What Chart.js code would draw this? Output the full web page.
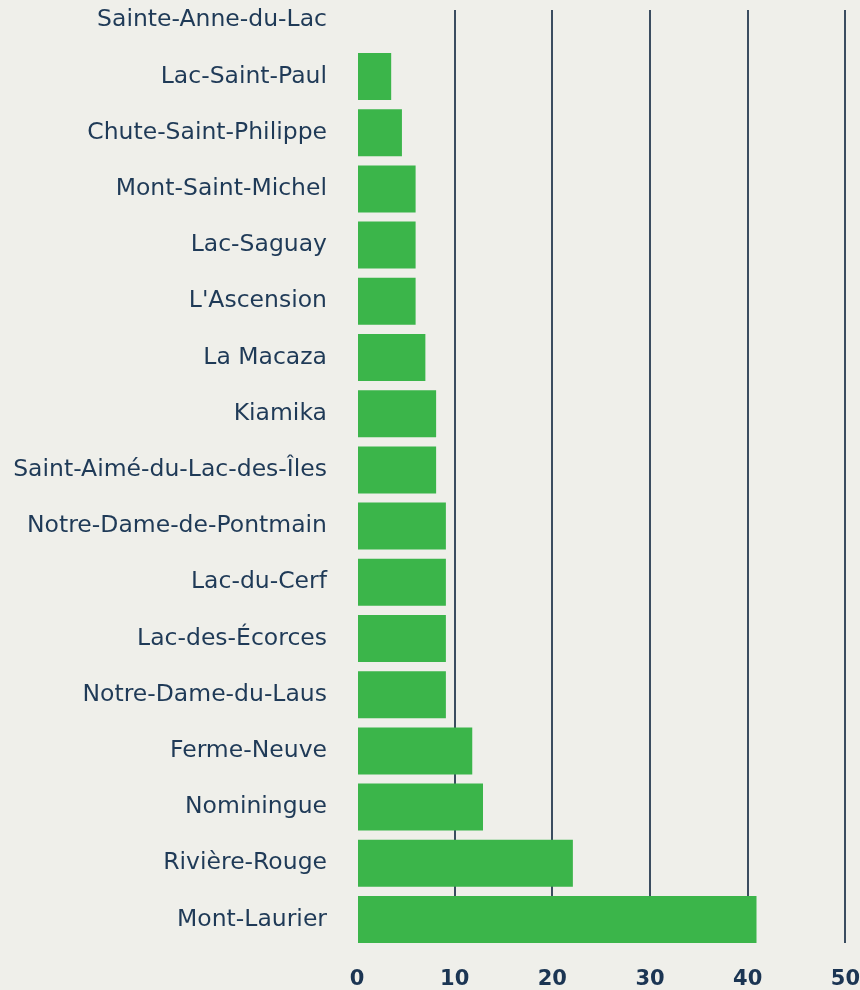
<!DOCTYPE html>
<html>
<head>
<meta charset="utf-8">
<script src="https://cdn.jsdelivr.net/npm/chart.js@4"></script>
<style>
  html, body { margin: 0; padding: 0; background: #efefea; }
  #wrap { position: relative; width: 860px; height: 990px; overflow: hidden; background: #efefea; }
  #c { position: absolute; left: 0; top: -38px; }
  #topmask { position: absolute; left: 340px; top: 0; width: 520px; height: 10px; background: #efefea; }
  #botmask { position: absolute; left: 340px; top: 943px; width: 520px; height: 6px; background: #efefea; }
</style>
</head>
<body>
<div id="wrap">
  <canvas id="c" width="860" height="1050"></canvas>
  <div id="topmask"></div>
  <div id="botmask"></div>
</div>
<script>
const categories = [
  "Sainte-Anne-du-Lac",
  "Lac-Saint-Paul",
  "Chute-Saint-Philippe",
  "Mont-Saint-Michel",
  "Lac-Saguay",
  "L'Ascension",
  "La Macaza",
  "Kiamika",
  "Saint-Aimé-du-Lac-des-Îles",
  "Notre-Dame-de-Pontmain",
  "Lac-du-Cerf",
  "Lac-des-Écorces",
  "Notre-Dame-du-Laus",
  "Ferme-Neuve",
  "Nominingue",
  "Rivière-Rouge",
  "Mont-Laurier"
];
const values = [0, 3.5, 4.6, 6.0, 6.0, 6.0, 7.0, 8.1, 8.1, 9.1, 9.1, 9.1, 9.1, 11.8, 12.9, 22.1, 40.9];
const xTicks = [0, 10, 20, 30, 40, 50];

const FONT = "'DejaVu Sans', sans-serif";

new Chart(document.getElementById('c'), {
  type: 'bar',
  data: {
    labels: categories,
    datasets: [{
      data: values,
      backgroundColor: '#3bb54a',
      borderWidth: 0,
      barPercentage: 0.836,
      categoryPercentage: 1.0
    }]
  },
  options: {
    indexAxis: 'y',
    responsive: false,
    animation: false,
    layout: { padding: { top: 30.2, right: 14, left: 0, bottom: 0 } },
    plugins: { legend: { display: false }, tooltip: { enabled: false } },
    scales: {
      x: {
        min: 0, max: 50,
        afterBuildTicks: s => { s.ticks = xTicks.map(v => ({ value: v })); },
        afterFit: s => { s.height = 64.4; },
        border: { display: false },
        grid: {
          color: ctx => ctx.tick && ctx.tick.value === 0 ? 'rgba(0,0,0,0)' : '#3b4d60',
          lineWidth: 2,
          drawTicks: true,
          tickLength: 19,
          tickColor: 'rgba(0,0,0,0)'
        },
        ticks: {
          padding: 0,
          color: '#1b3553',
          font: { family: FONT, size: 21, weight: 'bold' }
        }
      },
      y: {
        afterFit: s => { s.width = 357; },
        border: { display: false },
        grid: {
          display: true,
          drawOnChartArea: false,
          drawTicks: true,
          tickLength: 30,
          tickColor: 'rgba(0,0,0,0)'
        },
        ticks: {
          padding: 0,
          color: '#1f3a57',
          font: { family: FONT, size: 23.5 }
        }
      }
    }
  }
});
</script>
</body>
</html>
